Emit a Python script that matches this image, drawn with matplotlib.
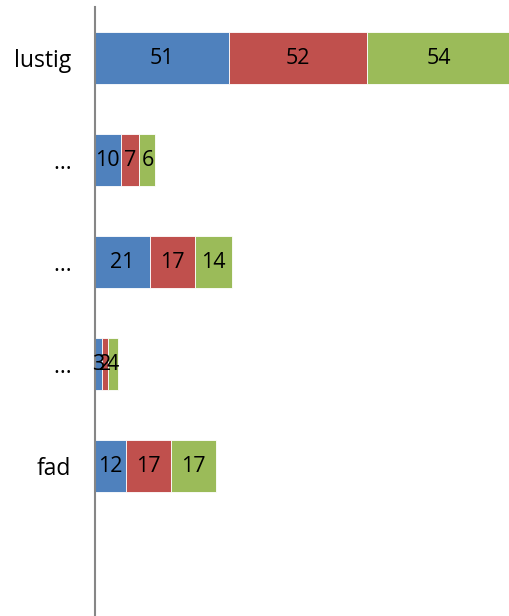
import matplotlib.pyplot as plt
import numpy as np

# data
categories = ['lustig', '…', '…', '…', 'fad', '']
series1 = [51, 10, 21, 3, 12, 0]
series2 = [52, 7, 17, 2, 17, 0]
series3 = [54, 6, 14, 4, 17, 0]

colors = ['#4F81BD', '#C0504D', '#9BBB59']

plt.rcParams['font.family'] = ['Open Sans', 'DejaVu Sans']

fig = plt.figure(figsize=(5.1, 6.16), dpi=100)
ax = fig.add_axes([94.5 / 510, -3 / 616, 415.5 / 510, 612 / 616])

y = np.arange(len(categories))
left = np.zeros(len(categories))
for vals, col in zip([series1, series2, series3], colors):
    vals = np.array(vals)
    bars = ax.barh(y, vals, left=left, height=0.51, color=col,
                   edgecolor='white', linewidth=0.6)
    for b, v in zip(bars, vals):
        if v > 0:
            ax.text(b.get_x() + b.get_width() / 2, b.get_y() + b.get_height() / 2,
                    str(v), ha='center', va='center', fontsize=15.5, color='black')
    left += vals

ax.set_ylim(len(categories) - 0.5, -0.5)
ax.set_xlim(0, 157)
ax.set_yticks(y)
ax.set_yticklabels(categories, fontsize=16.5)
ax.tick_params(axis='y', length=0, pad=17)
ax.set_xticks([])
for s in ['top', 'right', 'bottom']:
    ax.spines[s].set_visible(False)
ax.spines['left'].set_color('#868686')
ax.spines['left'].set_linewidth(1.5)

fig.savefig('out.png', dpi=100)
